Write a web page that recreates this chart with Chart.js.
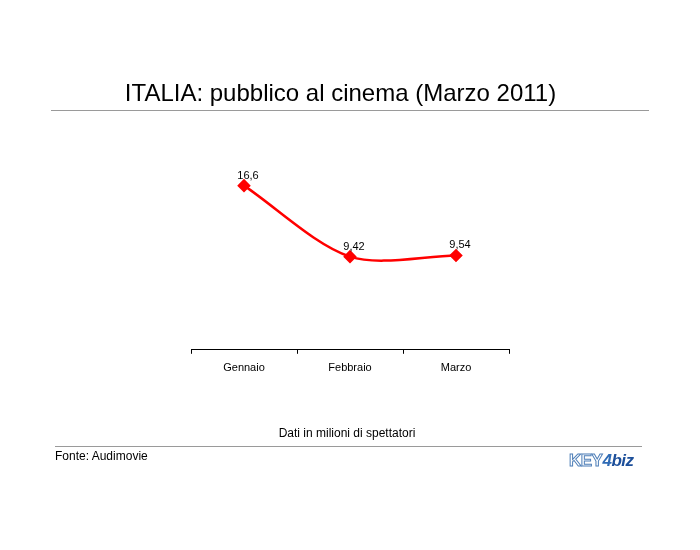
<!DOCTYPE html>
<html>
<head>
<meta charset="utf-8">
<script src="https://cdn.jsdelivr.net/npm/chart.js@4/dist/chart.umd.min.js"></script>
<style>
  body { margin: 0; background: #fff; font-family: "Liberation Sans", Arial, sans-serif; }
  #wrap { position: relative; width: 700px; height: 550px; }
  #canvas { position: absolute; left: 0; top: 0; }
  .txt { position: absolute; white-space: nowrap; color: #000; }
  .rule { position: absolute; height: 1px; background: #9a9a9a; }
  #logo { position: absolute; left: 569px; top: 451px; font-weight: bold; font-size: 17px; letter-spacing: -0.5px; }
  #logo .k { color: #fff; -webkit-text-stroke: 1px #4f7fb8; }
  #logo .n { color: #2f6bb5; font-style: italic; }
  #logo .b { color: #1d4f9a; font-style: italic; }
</style>
</head>
<body>
<div id="wrap">
  <canvas id="canvas" width="700" height="550"></canvas>
  <div class="txt" style="left:0;width:681px;text-align:center;top:79px;font-size:24px;">ITALIA: pubblico al cinema (Marzo 2011)</div>
  <div class="rule" style="left:51px;width:598px;top:110px;"></div>
  <div class="txt" style="left:0;width:694px;text-align:center;top:426px;font-size:12px;">Dati in milioni di spettatori</div>
  <div class="rule" style="left:55px;width:587px;top:446px;"></div>
  <div class="txt" style="left:55px;top:449px;font-size:12px;">Fonte: Audimovie</div>
  <div id="logo"><span class="k">KEY</span><span class="n">4</span><span class="b">biz</span></div>
</div>
<script>
// categories and values (milioni di spettatori)
var months = ['Gennaio', 'Febbraio', 'Marzo'];
var spettatori = [16.6, 9.42, 9.54];
var valueLabels = ['16,6', '9,42', '9,54'];

// value labels above each point
var pointLabels = {
    id: 'pointLabels',
    afterDatasetsDraw: function (chart) {
        var ctx = chart.ctx;
        var meta = chart.getDatasetMeta(0);
        ctx.save();
        ctx.font = '11px "Liberation Sans", Arial, sans-serif';
        ctx.fillStyle = '#000';
        ctx.textAlign = 'center';
        ctx.textBaseline = 'middle';
        meta.data.forEach(function (pt, i) {
            ctx.fillText(valueLabels[i], pt.x + 4, pt.y - 10);
        });
        ctx.restore();
    }
};

new Chart(document.getElementById('canvas').getContext('2d'), {
    type: 'line',
    data: {
        labels: months,
        datasets: [{
            data: spettatori,
            borderColor: '#ff0000',
            backgroundColor: '#ff0000',
            borderWidth: 2.5,
            tension: 0.3,
            pointStyle: 'rectRot',
            pointRadius: 5,
            pointHoverRadius: 5,
            fill: false
        }]
    },
    options: {
        responsive: false,
        animation: false,
        layout: { padding: { left: 191, right: 191, top: 152, bottom: 167 } },
        plugins: {
            legend: { display: false },
            tooltip: { enabled: false }
        },
        scales: {
            y: { display: false, min: 0, max: 20 },
            x: {
                offset: true,
                border: { display: true, color: '#000', width: 1 },
                grid: { display: true, drawOnChartArea: false, drawTicks: true, tickLength: 4, color: '#000', offset: true },
                ticks: { color: '#000', padding: 8, font: { family: '"Liberation Sans", Arial, sans-serif', size: 11 } }
            }
        }
    },
    plugins: [pointLabels]
});
</script>
</body>
</html>
